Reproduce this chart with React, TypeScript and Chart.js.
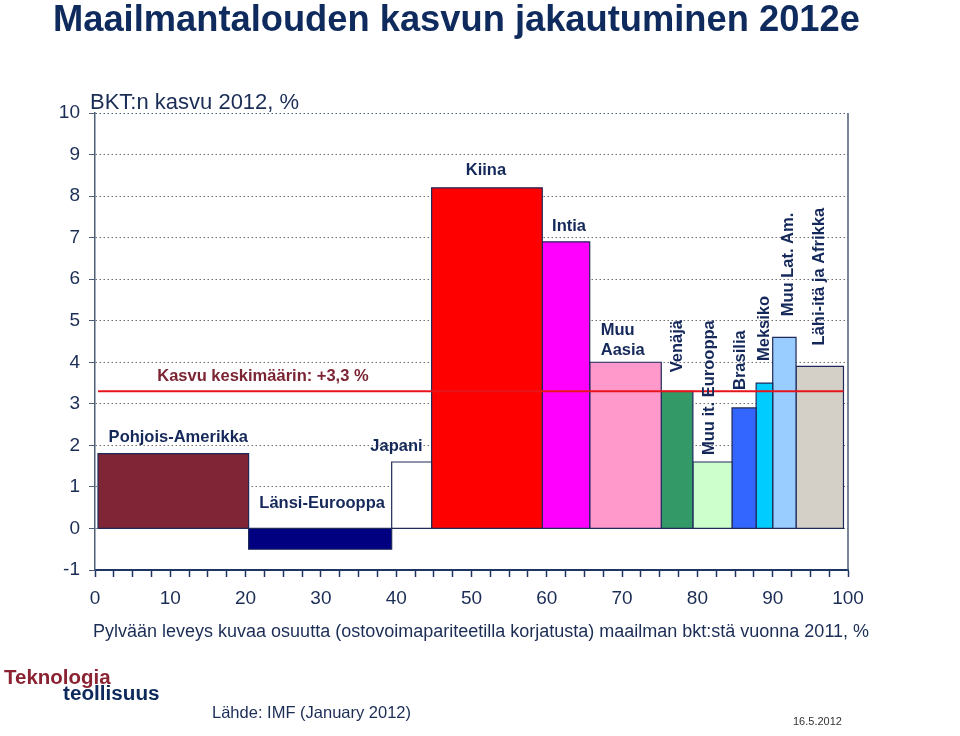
import React, { useEffect, useRef } from 'react';
import { Chart, registerables } from 'chart.js';

Chart.register(...registerables);

// ---- data ----
const regions = [
  'Pohjois-Amerikka',
  'Länsi-Eurooppa',
  'Japani',
  'Kiina',
  'Intia',
  'Muu Aasia',
  'Venäjä',
  'Muu it. Eurooppa',
  'Brasilia',
  'Meksiko',
  'Muu Lat. Am.',
  'Lähi-itä ja Afrikka',
];
// share of world GDP (PPP) 2011, % -> bar width
const shares = [20.0, 19.0, 5.3, 14.7, 6.3, 9.5, 4.2, 5.2, 3.2, 2.2, 3.1, 6.3];
// GDP growth 2012, % -> bar height
const growth = [1.8, -0.5, 1.6, 8.2, 6.9, 4.0, 3.3, 1.6, 2.9, 3.5, 4.6, 3.9];
const firstBarStart = 0.4;
const averageGrowth = 3.3;
const yTickMin = -1;
const yTickMax = 10;
const xTickMax = 100;

// ---- styles ----
const FONT = "Arial, 'Liberation Sans', sans-serif";
const barColors = [
  '#802535', '#000080', '#FFFFFF', '#FF0000', '#FF00FF', '#FF99CC',
  '#339966', '#CCFFCC', '#3366FF', '#00CCFF', '#99CCFF', '#D4D0C8',
];
const NAVY = '#1B2D55';
const SLATE = '#4C5E78';
const LABEL_COLOR = '#14285A';

// label placement relative to each bar (pixels)
const labelLayout = [
  { kind: 'h', anchor: 'center', dx: 5, gap: 16 },
  { kind: 'h', anchor: 'center', dx: 2, gap: 25 },
  { kind: 'h', anchor: 'right', dx: -9, gap: 16 },
  { kind: 'h', anchor: 'center', dx: -1, gap: 17 },
  { kind: 'h', anchor: 'center', dx: 3, gap: 15 },
  { kind: 'wrap', anchor: 'left', dx: 11, gap: 12, step: 19.6 },
  { kind: 'v', anchor: 'center', dx: 0, gap: 19 },
  { kind: 'v', anchor: 'center', dx: -3, gap: 7 },
  { kind: 'v', anchor: 'center', dx: -4, gap: 18 },
  { kind: 'v', anchor: 'center', dx: 0, gap: 22 },
  { kind: 'v', anchor: 'center', dx: 4, gap: 21 },
  { kind: 'v', anchor: 'center', dx: 0, gap: 21 },
];
const avgLabelX = 22.3;

const bounds: number[] = [firstBarStart];
shares.forEach((w, i) => bounds.push(+(bounds[i] + w).toFixed(2)));

const labelPlugin = {
  id: 'barLabels',
  beforeDatasetsDraw(chart: any) {
    const { ctx, chartArea } = chart;
    ctx.save();
    ctx.strokeStyle = SLATE;
    ctx.lineWidth = 1.5;
    ctx.beginPath();
    ctx.moveTo(chartArea.right, chartArea.top);
    ctx.lineTo(chartArea.right, chartArea.bottom);
    ctx.stroke();
    ctx.restore();
  },
  afterDatasetsDraw(chart: any) {
    const { ctx } = chart;
    const xs = chart.scales.x;
    const ys = chart.scales.y;
    ctx.save();
    ctx.font = `bold 16.5px ${FONT}`;
    ctx.fillStyle = LABEL_COLOR;
    ctx.textBaseline = 'middle';
    regions.forEach((name, i) => {
      const lay: any = labelLayout[i];
      const x0 = xs.getPixelForValue(bounds[i]);
      const x1 = xs.getPixelForValue(bounds[i + 1]);
      const top = ys.getPixelForValue(Math.max(growth[i], 0));
      let ax = (x0 + x1) / 2;
      if (lay.anchor === 'left') ax = x0;
      if (lay.anchor === 'right') ax = x1;
      ax += lay.dx;
      if (lay.kind === 'v') {
        ctx.save();
        ctx.translate(ax, top - lay.gap);
        ctx.rotate(-Math.PI / 2);
        ctx.textAlign = 'left';
        ctx.fillText(name, 0, 0);
        ctx.restore();
      } else if (lay.kind === 'wrap') {
        const lines = name.split(' ');
        ctx.textAlign = 'left';
        lines.forEach((ln, k) => {
          ctx.fillText(ln, ax, top - lay.gap - (lines.length - 1 - k) * lay.step);
        });
      } else {
        ctx.textAlign = lay.anchor;
        ctx.fillText(name, ax, top - lay.gap);
      }
    });
    ctx.fillStyle = '#7B2433';
    ctx.textAlign = 'center';
    ctx.fillText(
      `Kasvu keskimäärin: +${String(averageGrowth).replace('.', ',')} %`,
      xs.getPixelForValue(avgLabelX),
      ys.getPixelForValue(averageGrowth) - 15
    );
    ctx.restore();
  },
};

export default function App() {
  const ref = useRef<HTMLCanvasElement>(null);
  useEffect(() => {
    const canvas = ref.current!;
    const barSets = regions.map((name, i) => {
      const x0 = bounds[i];
      const x1 = bounds[i + 1];
      const v = growth[i];
      return {
        label: name,
        data: [
          { x: x0, y: 0 },
          { x: x0, y: v },
          { x: x1, y: v },
          { x: x1, y: 0 },
          { x: x0, y: 0 },
        ],
        backgroundColor: barColors[i],
        borderColor: '#1F2A5A',
        borderWidth: 1.2,
        borderCapStyle: 'square',
        fill: 'shape',
        pointRadius: 0,
        tension: 0,
        order: 2,
      };
    });
    const avgSet = {
      label: 'Kasvu keskimäärin',
      data: [
        { x: bounds[0], y: averageGrowth },
        { x: bounds[bounds.length - 1], y: averageGrowth },
      ],
      borderColor: '#E8141C',
      borderWidth: 2,
      pointRadius: 0,
      fill: false,
      order: 0,
    };
    const chart = new Chart(canvas, {
      type: 'line',
      data: { datasets: [avgSet, ...barSets] as any },
      plugins: [labelPlugin],
      options: {
        responsive: false,
        animation: false,
        devicePixelRatio: 1,
        events: [],
        layout: { padding: { left: 35, right: 112, top: 113, bottom: 116 } },
        plugins: { legend: { display: false }, tooltip: { enabled: false } },
        scales: {
          x: {
            type: 'linear',
            min: 0,
            max: xTickMax,
            afterFit: (s: any) => { s.height = 50; },
            ticks: {
              stepSize: 2.5,
              autoSkip: false,
              maxRotation: 0,
              padding: 10,
              color: NAVY,
              font: { family: FONT, size: 19 },
              callback: (v: any) => (Math.abs(v % 10) < 1e-6 ? String(v) : ''),
            },
            grid: {
              drawOnChartArea: false,
              drawTicks: true,
              tickLength: 7,
              tickColor: '#1F3561',
              tickWidth: 1.5,
            },
            border: { color: '#1F3561', width: 2 },
          },
          y: {
            type: 'linear',
            min: yTickMin,
            max: yTickMax,
            afterFit: (s: any) => { s.width = 60; },
            ticks: {
              stepSize: 1,
              padding: 9,
              color: NAVY,
              font: { family: FONT, size: 19 },
            },
            grid: {
              color: (c: any) =>
                c.tick && c.tick.value === yTickMin
                  ? 'rgba(0,0,0,0)'
                  : c.tick && c.tick.value === yTickMax
                  ? SLATE
                  : '#707070',
              lineWidth: 1,
              drawTicks: true,
              tickLength: 6,
              tickColor: SLATE,
            },
            border: { color: SLATE, width: 1.5, dash: [1.5, 2.5] },
          },
        },
      } as any,
    });
    return () => chart.destroy();
  }, []);

  const txt = (style: React.CSSProperties): React.CSSProperties => ({
    position: 'absolute',
    whiteSpace: 'nowrap',
    fontFamily: FONT,
    margin: 0,
    ...style,
  });

  return (
    <div style={{ position: 'absolute', left: 0, top: 0, width: 960, height: 736, background: '#fff', overflow: 'hidden' }}>
      <canvas ref={ref} width={960} height={736} style={{ position: 'absolute', left: 0, top: 0, display: 'block' }} />
      <div style={txt({ left: 53, top: 1, fontSize: 36.3, lineHeight: '36.3px', fontWeight: 'bold', color: '#0F2B5E' })}>
        Maailmantalouden kasvun jakautuminen 2012e
      </div>
      <div style={txt({ left: 90, top: 91, fontSize: 22, lineHeight: '22px', color: NAVY })}>
        BKT:n kasvu 2012, %
      </div>
      <div style={txt({ left: 93, top: 622, fontSize: 18, lineHeight: '18px', color: NAVY })}>
        Pylvään leveys kuvaa osuutta (ostovoimapariteetilla korjatusta) maailman bkt:stä vuonna 2011, %
      </div>
      <div style={txt({ left: 4, top: 667, fontSize: 20.5, lineHeight: '20.5px', fontWeight: 'bold', color: '#8B2332' })}>
        Teknologia
      </div>
      <div style={txt({ left: 63, top: 683, fontSize: 20.7, lineHeight: '20.7px', fontWeight: 'bold', color: '#0E2A5C' })}>
        teollisuus
      </div>
      <div style={txt({ left: 212, top: 703.6, fontSize: 16.5, lineHeight: '16.5px', color: NAVY })}>
        Lähde: IMF (January 2012)
      </div>
      <div style={txt({ left: 793, top: 715.6, fontSize: 11, lineHeight: '11px', color: '#333' })}>
        16.5.2012
      </div>
    </div>
  );
}
